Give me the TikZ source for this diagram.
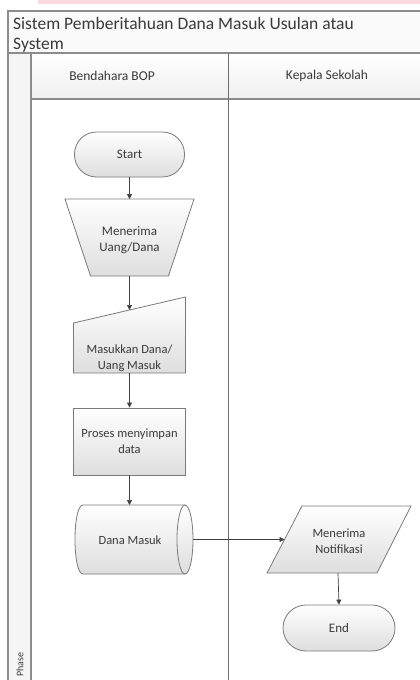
\documentclass[tikz,border=0pt]{standalone}
\usepackage{fontspec}
\setmainfont{Carlito}
\usetikzlibrary{arrows.meta}
\definecolor{frameln}{HTML}{8C8C8C}
\definecolor{laneln}{HTML}{6E6E6E}
\definecolor{shapeln}{HTML}{7A7A7A}
\definecolor{txt}{HTML}{3A3A3A}
\definecolor{pinkband}{HTML}{F9D9DE}
\begin{document}
\begin{tikzpicture}[x=1pt,y=-1pt,
  frame/.style={draw=frameln,line width=1.3pt},
  shapebox/.style={draw=shapeln,line width=0.8pt,top color=white,bottom color=black!13},
  lbl/.style={text=txt,align=center,inner sep=0pt,font=\fontsize{13}{15.5}\selectfont},
  lblsmall/.style={text=txt,align=center,inner sep=0pt,font=\fontsize{12.5}{16}\selectfont},
  titletxt/.style={text=txt,inner sep=0pt,anchor=west,font=\fontsize{17.5}{20}\selectfont},
  headtxt/.style={text=txt,inner sep=0pt,font=\fontsize{13.5}{16}\selectfont},
  arr/.style={draw=black!75,line width=0.7pt,-{Triangle[length=5pt,width=5pt]}}]
\useasboundingbox (0,0) rectangle (420,680);
\fill[white] (0,0) rectangle (420,680);
\fill[pinkband] (38,0) rectangle (420,4);
% pool frame
\fill[black!2] (8,11) rectangle (425,53);
\fill[top color=white,bottom color=black!6] (31,53) rectangle (425,99);
\fill[black!4] (8,53) rectangle (31,685);
\draw[frame] (425,11) -- (8,11) -- (8,685);
\draw[frame] (8,53) -- (425,53);
\draw[frame] (31,53) -- (31,685);
\draw[frame] (31,99) -- (425,99);
\draw[draw=laneln,line width=1pt] (228,53) -- (228,685);
% titles
\node[titletxt] (t1) at (13,23) {Sistem Pemberitahuan Dana Masuk Usulan atau};
\node[titletxt] (t2) at (13,45) {System};
\node[headtxt] (h1) at (112,76) {Bendahara BOP};
\node[headtxt] (h2) at (327,76) {Kepala Sekolah};
\node[text=txt,inner sep=0pt,rotate=90,anchor=west,font=\fontsize{10}{12}\selectfont] (phase) at (20,677) {Phase};
% Start
\node[shapebox,rounded corners=22pt,minimum width=110pt,minimum height=45pt,lbl] (start) at (129.5,154.5) {Start};
% manual operation (trapezoid)
\draw[shapebox] (65,199) -- (194,199) -- (168.5,276) -- (90.5,276) -- cycle;
\coordinate (trapT) at (129.5,199);
\coordinate (trapB) at (129.5,276);
\node[lbl] (trap) at (129.5,240) {Menerima\\Uang/Dana};
% manual input
\draw[shapebox] (73.5,323) -- (185.5,297) -- (185.5,373) -- (73.5,373) -- cycle;
\coordinate (minT) at (129.5,310);
\coordinate (minB) at (129.5,373);
\node[lblsmall] (minp) at (129.5,358) {Masukkan Dana/\\Uang Masuk};
% process
\node[shapebox,minimum width=112pt,minimum height=67pt,lblsmall] (proc) at (129.5,441.5) {Proses menyimpan\\data};
% direct data (cylinder)
\draw[shapebox] (83,505) -- (185,505) -- (185,574) -- (83,574) .. controls (72.33,574) and (72.33,505) .. (83,505) -- cycle;
\draw[shapebox] (185,539.5) ellipse (8 and 34.5);
\coordinate (cylT) at (129.5,505);
\coordinate (cylR) at (193,539.5);
\node[lblsmall] (cyl) at (130,540) {Dana Masuk};
% data (parallelogram)
\draw[shapebox] (302,506) -- (411,506) -- (377,573) -- (267,573) -- cycle;
\coordinate (parL) at (284.5,539.5);
\coordinate (parB) at (338,573);
\node[lblsmall] (par) at (339,541) {Menerima\\Notifikasi};
% End
\node[shapebox,rounded corners=23pt,minimum width=112pt,minimum height=46pt,lbl] (endN) at (339,628) {End};
% connectors
\draw[arr] (start.south) -- (trapT);
\draw[arr] (trapB) -- (minT);
\draw[arr] (minB) -- (proc.north);
\draw[arr] (proc.south) -- (cylT);
\draw[arr] (cylR) -- (parL);
\draw[arr] (parB) -- (endN.north);
\end{tikzpicture}
\end{document}
